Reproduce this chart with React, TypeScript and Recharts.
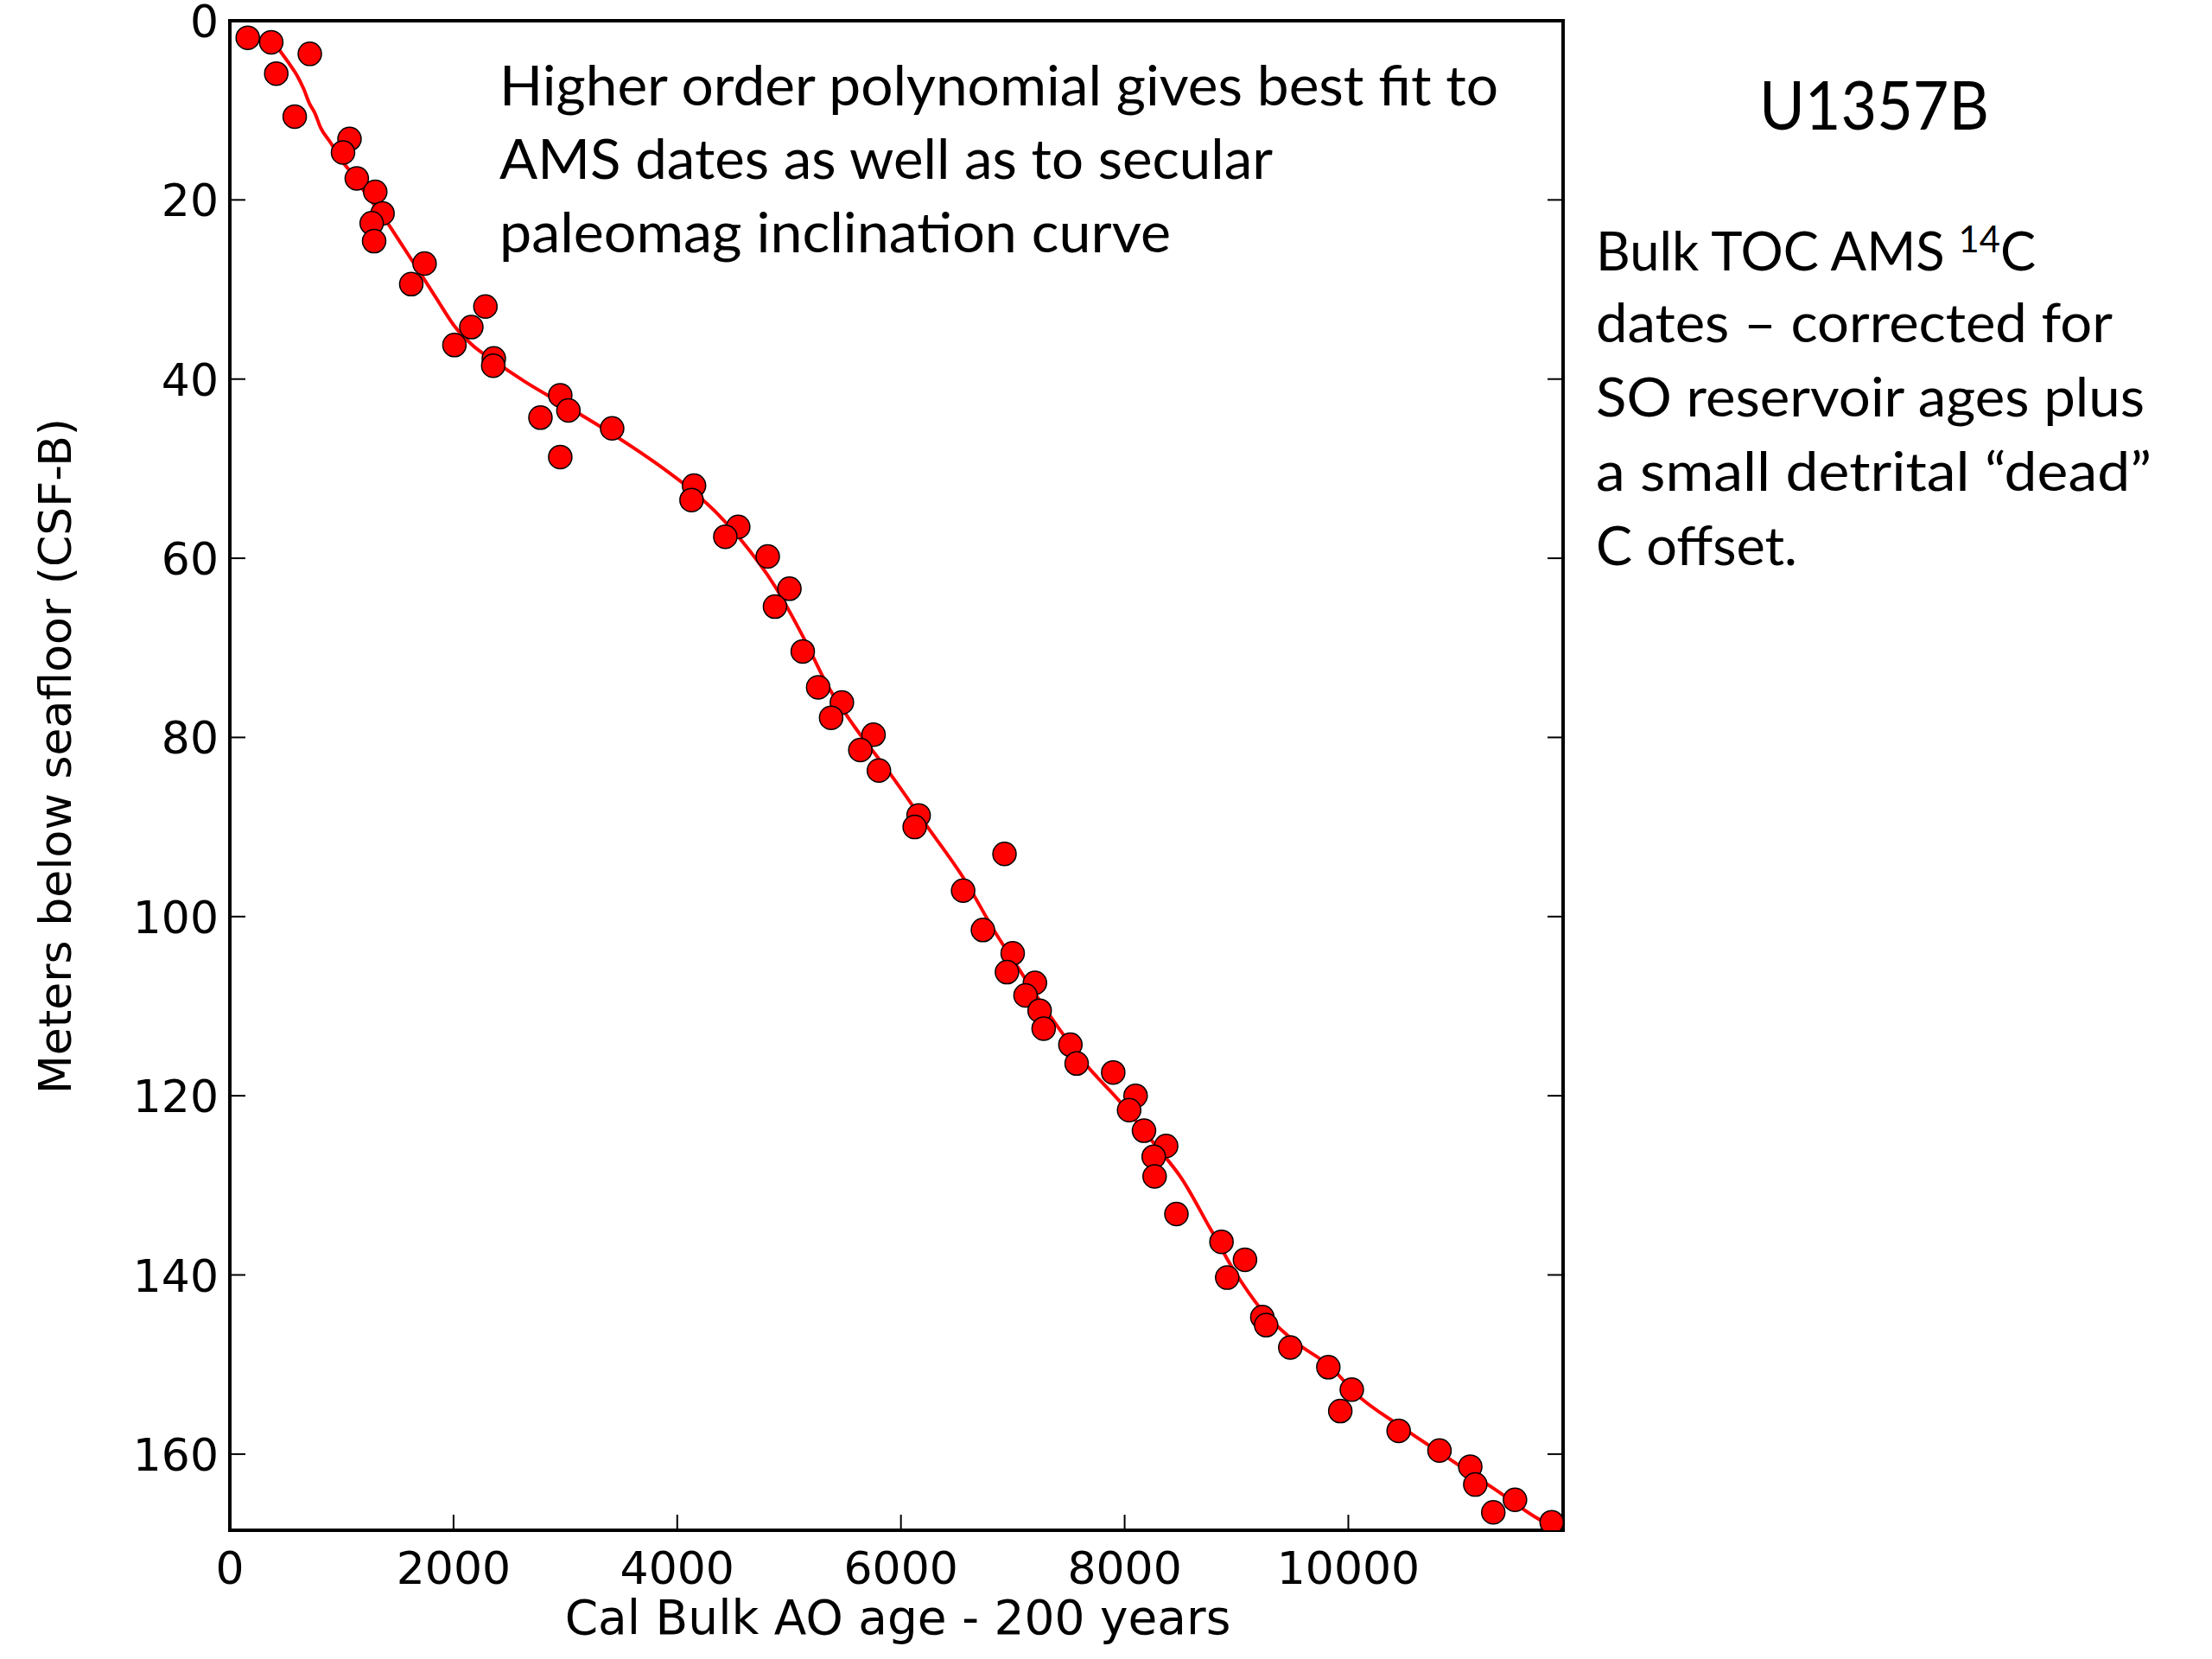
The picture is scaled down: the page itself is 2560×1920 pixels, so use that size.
import { ScatterChart, Scatter, XAxis, YAxis } from 'recharts';

// Cal Bulk AO age (years) and depth (m CSF-B) of the AMS dates
const AGES = [
  160, 370, 415, 715, 580, 1070, 1012, 1135, 1300, 1365, 1268, 1290, 1741, 1622, 2285,
  2159, 2008, 2360, 2355, 2777, 2954, 3027, 2954, 3418, 4150, 4128, 4545, 4430, 4809,
  5003, 4874, 5122, 5260, 5472, 5376, 5755, 5637, 5803, 6158, 6123, 6926, 6556, 6733,
  6999, 6948, 7198, 7114, 7240, 7276, 7515, 7571, 7898, 8098, 8040, 8173, 8371, 8260,
  8268, 8463, 8866, 9076, 8917, 9231, 9265, 9481, 9821, 10031, 9928, 10450, 10815,
  11090, 11135, 11490, 11296, 11818,
];
const DEPTHS = [
  1.9, 2.4, 5.9, 3.7, 10.7, 13.2, 14.7, 17.6, 19.1, 21.5, 22.6, 24.6, 27.1, 29.4, 31.9,
  34.2, 36.2, 37.7, 38.5, 44.3, 41.8, 43.5, 48.7, 45.5, 51.9, 53.5, 56.5, 57.6, 59.8,
  63.4, 65.4, 70.4, 74.4, 76.1, 77.8, 79.7, 81.4, 83.7, 88.7, 90.0, 93.0, 97.1, 101.5,
  104.1, 106.2, 107.4, 108.8, 110.5, 112.5, 114.3, 116.4, 117.4, 120.0, 121.6, 123.9,
  125.6, 126.8, 129.0, 133.2, 136.3, 138.3, 140.3, 144.7, 145.6, 148.1, 150.3, 152.8,
  155.2, 157.4, 159.6, 161.4, 163.4, 165.1, 166.5, 167.6,
];

// polynomial fit curve
const FIT_AGES = [
  445, 520, 600, 660, 710, 760, 810, 900, 1000, 1100, 1221, 1379, 1537, 1694, 1852, 2009,
  2167, 2364, 2640, 3034, 3428, 3822, 4137, 4373, 4560, 4877, 5131, 5348, 5585, 5900,
  6215, 6570, 6845, 7047, 7340, 7633, 7968, 8261, 8513, 8764, 8973, 9225, 9518, 9853,
  10062, 10481, 10900, 11319, 11738, 11818,
];
const FIT_DEPTHS = [
  3.3, 4.6, 6.1, 7.6, 9.2, 10.3, 11.9, 13.6, 15.6, 17.2, 19.4, 22.0, 25.0, 28.0, 31.1, 34.1,
  36.2, 38.0, 40.3, 43.2, 46.2, 49.5, 52.5, 55.2, 57.8, 63.2, 68.9, 74.3, 78.8, 84.0,
  89.6, 95.9, 101.8, 105.7, 111.2, 116.2, 120.8, 125.3, 129.3, 134.8, 139.4, 143.9, 147.4,
  150.4, 153.2, 157.0, 160.5, 164.0, 167.5, 168.0,
];

const X_TICKS = [0, 2000, 4000, 6000, 8000, 10000];
const Y_TICKS = [0, 20, 40, 60, 80, 100, 120, 140, 160];
const X_MAX = 11920;
const Y_MAX = 168.5;

const X_TITLE = 'Cal Bulk AO age - 200 years';
const Y_TITLE = 'Meters below seafloor (CSF-B)';
const SITE = 'U1357B';
const FIT_NOTE = [
  'Higher order polynomial gives best fit to',
  'AMS dates as well as to secular',
  'paleomag inclination curve',
];
const DATE_NOTE = ['dates – corrected for', 'SO reservoir ages plus', 'a small detrital “dead”', 'C offset.'];

const points = AGES.map((x, i) => ({ x, y: DEPTHS[i] }));
const fit = FIT_AGES.map((x, i) => ({ x, y: FIT_DEPTHS[i] }));

const AXIS_FONT = "'DejaVu Sans', sans-serif";
const NOTE_FONT = "Lato, 'Open Sans', sans-serif";
const TICK_LEN = 18;
const frame = { stroke: '#000', strokeWidth: 4, strokeLinecap: 'square' as const };

function BottomTick(props: any) {
  const { x, y, payload } = props;
  return (
    <g>
      <line x1={x} y1={y} x2={x} y2={y - TICK_LEN} stroke="#000" strokeWidth={2} />
      <text x={x} y={y + 62} textAnchor="middle" fontFamily={AXIS_FONT} fontSize={52} fill="#000">
        {payload.value}
      </text>
    </g>
  );
}

function LeftTick(props: any) {
  const { x, y, payload } = props;
  return (
    <g>
      <line x1={x} y1={y} x2={x + TICK_LEN} y2={y} stroke="#000" strokeWidth={2} />
      <text x={x - 13} y={y + 19} textAnchor="end" fontFamily={AXIS_FONT} fontSize={52} fill="#000">
        {payload.value}
      </text>
    </g>
  );
}

function TopTick(props: any) {
  const { x, y } = props;
  return <line x1={x} y1={y} x2={x} y2={y + TICK_LEN} stroke="#000" strokeWidth={2} />;
}

function RightTick(props: any) {
  const { x, y } = props;
  return <line x1={x} y1={y} x2={x - TICK_LEN} y2={y} stroke="#000" strokeWidth={2} />;
}

function Dot(props: any) {
  return <circle cx={props.cx} cy={props.cy} r={13.5} fill="#ff0000" stroke="#000" strokeWidth={1.5} />;
}

export default function App() {
  const fitWidths = [1156, 895, 777];
  const noteWidths = [598, 635, 643, 233];

  return (
    <div style={{ width: 2560, height: 1920, background: '#fff' }}>
      <style>{'body{margin:0}'}</style>
      <ScatterChart width={2560} height={1920} margin={{ top: 23, right: 750, bottom: 148, left: 265 }}>
        <XAxis
          xAxisId="b"
          type="number"
          dataKey="x"
          domain={[0, X_MAX]}
          ticks={X_TICKS}
          interval={0}
          height={1}
          tickSize={0}
          tickMargin={0}
          tickLine={false}
          axisLine={frame}
          tick={<BottomTick />}
          allowDataOverflow
        />
        <XAxis
          xAxisId="t"
          orientation="top"
          type="number"
          domain={[0, X_MAX]}
          ticks={X_TICKS}
          interval={0}
          height={1}
          tickSize={0}
          tickMargin={0}
          tickLine={false}
          axisLine={frame}
          tick={<TopTick />}
          allowDataOverflow
        />
        <YAxis
          yAxisId="l"
          type="number"
          dataKey="y"
          reversed
          domain={[0, Y_MAX]}
          ticks={Y_TICKS}
          interval={0}
          width={1}
          tickSize={0}
          tickMargin={0}
          tickLine={false}
          axisLine={frame}
          tick={<LeftTick />}
          allowDataOverflow
        />
        <YAxis
          yAxisId="r"
          orientation="right"
          type="number"
          reversed
          domain={[0, Y_MAX]}
          ticks={Y_TICKS}
          interval={0}
          width={1}
          tickSize={0}
          tickMargin={0}
          tickLine={false}
          axisLine={frame}
          tick={<RightTick />}
          allowDataOverflow
        />
        <Scatter
          xAxisId="b"
          yAxisId="l"
          data={fit}
          stroke="#ff0000"
          strokeWidth={4}
          line={{ stroke: '#ff0000', strokeWidth: 4 }}
          lineJointType="monotoneX"
          shape={() => <g />}
          isAnimationActive={false}
        />
        <Scatter xAxisId="b" yAxisId="l" data={points} shape={<Dot />} isAnimationActive={false} />

        <text x={1039} y={1891} textAnchor="middle" fontFamily={AXIS_FONT} fontSize={55} fill="#000">
          {X_TITLE}
        </text>
        <text
          transform="translate(82 875) rotate(-90)"
          textAnchor="middle"
          fontFamily={AXIS_FONT}
          fontSize={52}
          fill="#000"
        >
          {Y_TITLE}
        </text>

        {FIT_NOTE.map((line, i) => (
          <text
            key={line}
            x={578}
            y={122 + i * 85}
            fontFamily={NOTE_FONT}
            fontSize={63}
            fill="#000"
            textLength={fitWidths[i]}
            lengthAdjust="spacingAndGlyphs"
          >
            {line}
          </text>
        ))}

        <text x={2036} y={150} fontFamily={NOTE_FONT} fontSize={77} fill="#000" textLength={266} lengthAdjust="spacingAndGlyphs">
          {SITE}
        </text>
        <text x={1847} y={313} fontFamily={NOTE_FONT} fontSize={62} fill="#000" textLength={509} lengthAdjust="spacingAndGlyphs">
          Bulk TOC AMS{' '}
          <tspan fontSize={42} dy={-21}>
            14
          </tspan>
          <tspan dy={21}>C</tspan>
        </text>
        {DATE_NOTE.map((line, i) => (
          <text
            key={line}
            x={1847}
            y={396 + i * 86}
            fontFamily={NOTE_FONT}
            fontSize={62}
            fill="#000"
            textLength={noteWidths[i]}
            lengthAdjust="spacingAndGlyphs"
          >
            {line}
          </text>
        ))}
      </ScatterChart>
    </div>
  );
}
